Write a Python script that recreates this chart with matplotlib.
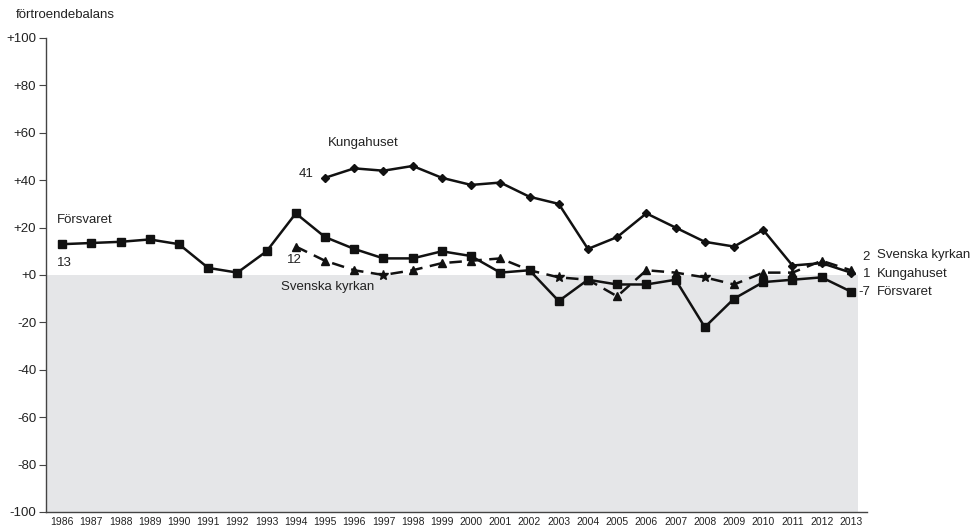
import matplotlib
matplotlib.use("Agg")
import matplotlib.pyplot as plt
import numpy as np

plt.rcParams['font.family'] = ['Liberation Sans', 'DejaVu Sans']

years = list(range(1986, 2014))
forsvaret = [13, 13.5, 14, 15, 13, 3, 1, 10, 26, 16, 11, 7, 7, 10, 8, 1, 2, -11, -2, -4, -4, -2, -22, -10, -3, -2, -1, -7]
kung_years = list(range(1995, 2014))
kungahuset = [41, 45, 44, 46, 41, 38, 39, 33, 30, 11, 16, 26, 20, 14, 12, 19, 4, 5, 1]
kyrka_years = list(range(1994, 2014))
kyrkan = [12, 6, 2, 0, 2, 5, 6, 7, 2, -1, -2, -9, 2, 1, -1, -4, 1, 1, 6, 2]
ytick_vals = [100, 80, 60, 40, 20, 0, -20, -40, -60, -80, -100]
ytick_labels = ['+100', '+80', '+60', '+40', '+20', '+0', '-20', '-40', '-60', '-80', '-100']

# marker style per Svenska kyrkan point (stars where the original shows stars)
kyrka_star_years = [1997, 2003, 2008]

fig = plt.figure(figsize=(9.73, 5.32), dpi=100)
ax = fig.add_axes([0.0473, 0.0376, 0.8437, 0.891])
ax.set_xlim(1985.45, 2013.55)
ax.set_ylim(-100, 100)

ax.axhspan(-100, 0, xmin=0, xmax=(2013.25 - 1985.45) / (2013.55 - 1985.45), color='#e5e6e8', zorder=0, lw=0)

ax.plot(years, forsvaret, color='#111111', lw=1.8, marker='s', ms=6, zorder=3)
ax.plot(kung_years, kungahuset, color='#111111', lw=1.8, marker='D', ms=4, zorder=3)
ax.plot(kyrka_years, kyrkan, color='#111111', lw=1.8, ls=(0, (5, 3)), zorder=3)
tri_x = [x for x in kyrka_years if x not in kyrka_star_years]
tri_y = [v for x, v in zip(kyrka_years, kyrkan) if x not in kyrka_star_years]
star_x = [x for x in kyrka_years if x in kyrka_star_years]
star_y = [v for x, v in zip(kyrka_years, kyrkan) if x in kyrka_star_years]
ax.plot(tri_x, tri_y, ls='none', marker='^', ms=5.5, color='#111111', zorder=3)
ax.plot(star_x, star_y, ls='none', marker='*', ms=7.5, color='#111111', zorder=3)

ax.set_yticks(ytick_vals)
ax.set_yticklabels(ytick_labels, fontsize=9.5, color='#222222')
ax.set_xticks(years)
ax.set_xticklabels([str(y) for y in years], fontsize=7.5, color='#222222')
ax.tick_params(axis='x', length=0, pad=3.5)
ax.tick_params(axis='y', length=5, width=0.8, color='#444444', pad=2)
for s in ['top', 'right']:
    ax.spines[s].set_visible(False)
for s in ['left', 'bottom']:
    ax.spines[s].set_color('#444444')
    ax.spines[s].set_linewidth(1.0)

tc = '#222222'
fs = 9.5
ax.text(1996.3, 55.7, 'Kungahuset', fontsize=fs, color=tc, ha='center', va='center')
ax.text(1994.6, 42.5, '41', fontsize=fs, color=tc, ha='right', va='center')
ax.text(1985.83, 23, 'Försvaret', fontsize=fs, color=tc, ha='left', va='center')
ax.text(1985.83, 5, '13', fontsize=fs, color=tc, ha='left', va='center')
ax.text(1993.7, 6.3, '12', fontsize=fs, color=tc, ha='left', va='center')
ax.text(1993.5, -5, 'Svenska kyrkan', fontsize=fs, color=tc, ha='left', va='center')

ax.text(2013.4, 7.6, '2', fontsize=fs, color=tc, ha='left', va='center', clip_on=False)
ax.text(2013.4, 0.4, '1', fontsize=fs, color=tc, ha='left', va='center', clip_on=False)
ax.text(2013.25, -7.3, '-7', fontsize=fs, color=tc, ha='left', va='center', clip_on=False)
ax.text(2013.9, 8.4, 'Svenska kyrkan', fontsize=fs, color=tc, ha='left', va='center', clip_on=False)
ax.text(2013.9, 0.4, 'Kungahuset', fontsize=fs, color=tc, ha='left', va='center', clip_on=False)
ax.text(2013.9, -7.3, 'Försvaret', fontsize=fs, color=tc, ha='left', va='center', clip_on=False)

fig.text(16 / 973, 1 - 15 / 532, 'förtroendebalans', fontsize=9.5, color=tc, ha='left', va='center')

fig.savefig('out.png', dpi=100)
